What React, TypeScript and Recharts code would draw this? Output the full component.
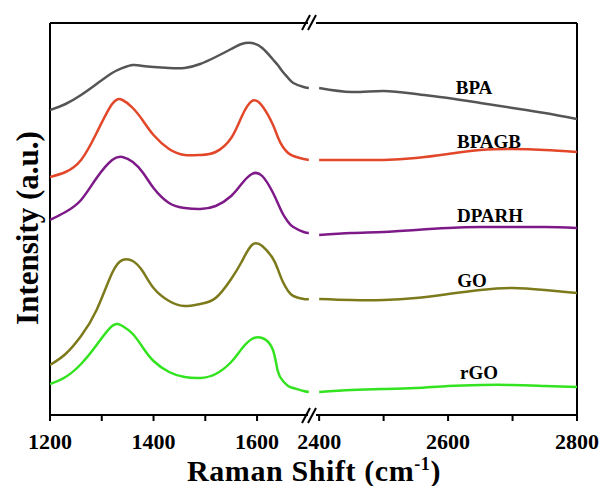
import { LineChart, Line, XAxis, YAxis, ReferenceLine } from 'recharts';

// Raman shift sample points (cm-1), the axis is broken between the two ranges
const lowShift = [1200, 1230, 1260, 1290, 1320, 1340, 1360, 1380, 1400, 1430, 1460, 1490, 1520, 1550, 1570, 1590, 1610, 1630, 1640, 1650, 1660, 1670, 1690, 1700];
const highShift = [2400, 2450, 2500, 2550, 2600, 2650, 2700, 2750, 2800];

// intensities (a.u., stacked offsets as in the figure)
const bpaLow = [305, 311, 320, 331, 342, 347, 350, 349, 348, 347, 347, 351, 358, 366, 371, 372, 367, 356, 350, 343, 337, 332, 328, 327];
const bpaHigh = [327, 323, 324, 321, 317, 312, 307, 302, 296];
const bpagbLow = [238, 243, 255, 282, 311, 315, 307, 294, 280, 266, 260, 260, 263, 277, 298, 314, 309, 291, 278, 268, 262, 259, 256, 255];
const bpagbHigh = [255, 255, 255, 257, 261, 265, 266, 265, 263];
const dparhLow = [195, 203, 215, 237, 255, 258, 253, 242, 227, 212, 207, 206, 209, 219, 231, 241, 239, 223, 212, 201, 193, 188, 183, 182];
const dparhHigh = [180, 182, 183, 185, 187, 188, 188, 188, 187];
const goLow = [50, 61, 79, 105, 142, 155, 154, 143, 127, 114, 109, 111, 117, 136, 153, 170, 169, 157, 146, 133, 124, 119, 116, 116];
const goHigh = [116, 115, 115, 117, 121, 125, 127, 125, 122];
const rgoLow = [31, 38, 51, 70, 89, 89, 81, 67, 54, 43, 38, 37, 41, 53, 66, 76, 77, 66, 44, 34, 29, 27, 24, 23];
const rgoHigh = [23, 25, 26, 27, 29, 30, 30, 29, 28];

const lowTicks = [1200, 1300, 1400, 1500, 1600];
const highTicks = [2400, 2500, 2600, 2700, 2800];
const lowLabels = [1200, 1400, 1600];
const highLabels = [2400, 2600, 2800];

const series = [
  { key: 'BPA', color: '#555555', low: bpaLow, high: bpaHigh },
  { key: 'BPAGB', color: '#e2472a', low: bpagbLow, high: bpagbHigh },
  { key: 'DPARH', color: '#7d1a88', low: dparhLow, high: dparhHigh },
  { key: 'GO', color: '#7d7a1c', low: goLow, high: goHigh },
  { key: 'rGO', color: '#33e31f', low: rgoLow, high: rgoHigh },
];

const serif = '"Liberation Serif", "Times New Roman", serif';
const tickStyle = { fontSize: 22, fontWeight: 'bold', fill: '#000', fontFamily: serif };

function buildRows(shift: number[], part: 'low' | 'high') {
  return shift.map((s, i) => {
    const row: Record<string, number> = { shift: s };
    series.forEach((d) => {
      row[d.key] = d[part][i];
    });
    return row;
  });
}

function Panel({ part }: { part: 'low' | 'high' }) {
  const isLow = part === 'low';
  const data = buildRows(isLow ? lowShift : highShift, part);
  const domain = isLow ? [1200, 1710] : [2392, 2800];
  const labels = isLow ? lowLabels : highLabels;
  return (
    <LineChart
      width={isLow ? 314 : 315}
      height={486}
      data={data}
      margin={isLow ? { top: 23, right: 0, bottom: 41, left: 50 } : { top: 23, right: 28, bottom: 41, left: 24 }}
    >
      <XAxis
        dataKey="shift"
        type="number"
        domain={domain}
        allowDataOverflow
        ticks={isLow ? lowTicks : highTicks}
        interval={0}
        tickFormatter={(v: number) => (labels.includes(v) ? String(v) : '')}
        tick={tickStyle}
        tickSize={6}
        tickMargin={12}
        height={30}
        stroke="#000"
        axisLine={{ stroke: '#000', strokeWidth: 2 }}
        tickLine={{ stroke: '#000', strokeWidth: 2 }}
      />
      <YAxis hide domain={[0, 392]} />
      <ReferenceLine y={392} stroke="#000" strokeWidth={2} />
      {isLow ? (
        <ReferenceLine x={1200} stroke="#000" strokeWidth={2} />
      ) : (
        <ReferenceLine x={2800} stroke="#000" strokeWidth={2} />
      )}
      {series.map((d) => (
        <Line
          key={d.key}
          dataKey={d.key}
          type="natural"
          stroke={d.color}
          strokeWidth={2.5}
          dot={false}
          isAnimationActive={false}
        />
      ))}
    </LineChart>
  );
}

export default function App() {
  return (
    <div style={{ position: 'absolute', left: 0, top: 0, width: 605, height: 486, background: '#fff' }}>
      <div style={{ position: 'absolute', left: 0, top: 0 }}>
        <Panel part="low" />
      </div>
      <div style={{ position: 'absolute', left: 290, top: 0 }}>
        <Panel part="high" />
      </div>
      <svg width={605} height={486} style={{ position: 'absolute', left: 0, top: 0, pointerEvents: 'none' }}>
        {/* axis break marks */}
        <rect x={308} y={20} width={8} height={6} fill="#fff" />
        <rect x={308} y={412} width={8} height={6} fill="#fff" />
        <line x1={302} y1={30} x2={310} y2={15} stroke="#000" strokeWidth={2} />
        <line x1={308} y1={30} x2={316} y2={15} stroke="#000" strokeWidth={2} />
        <line x1={302} y1={423} x2={310} y2={408} stroke="#000" strokeWidth={2} />
        <line x1={308} y1={423} x2={316} y2={408} stroke="#000" strokeWidth={2} />
        <g fontFamily={serif} fontWeight="bold" fontSize={19} fill="#000" textAnchor="middle" dominantBaseline="central">
          <text x={474} y={87}>BPA</text>
          <text x={489} y={141}>BPAGB</text>
          <text x={490} y={215}>DPARH</text>
          <text x={472} y={280}>GO</text>
          <text x={479} y={372}>rGO</text>
        </g>
        <text x={314} y={481} fontFamily={serif} fontWeight="bold" fontSize={30} letterSpacing={0.6} textAnchor="middle" fill="#000">
          Raman Shift (cm<tspan dy={-11} fontSize={18}>-1</tspan><tspan dy={11}>)</tspan>
        </text>
        <text
          x={0}
          y={0}
          transform="translate(38,228) rotate(-90)"
          fontFamily={serif}
          fontWeight="bold"
          fontSize={31}
          textAnchor="middle"
          fill="#000"
        >
          Intensity (a.u.)
        </text>
      </svg>
    </div>
  );
}
